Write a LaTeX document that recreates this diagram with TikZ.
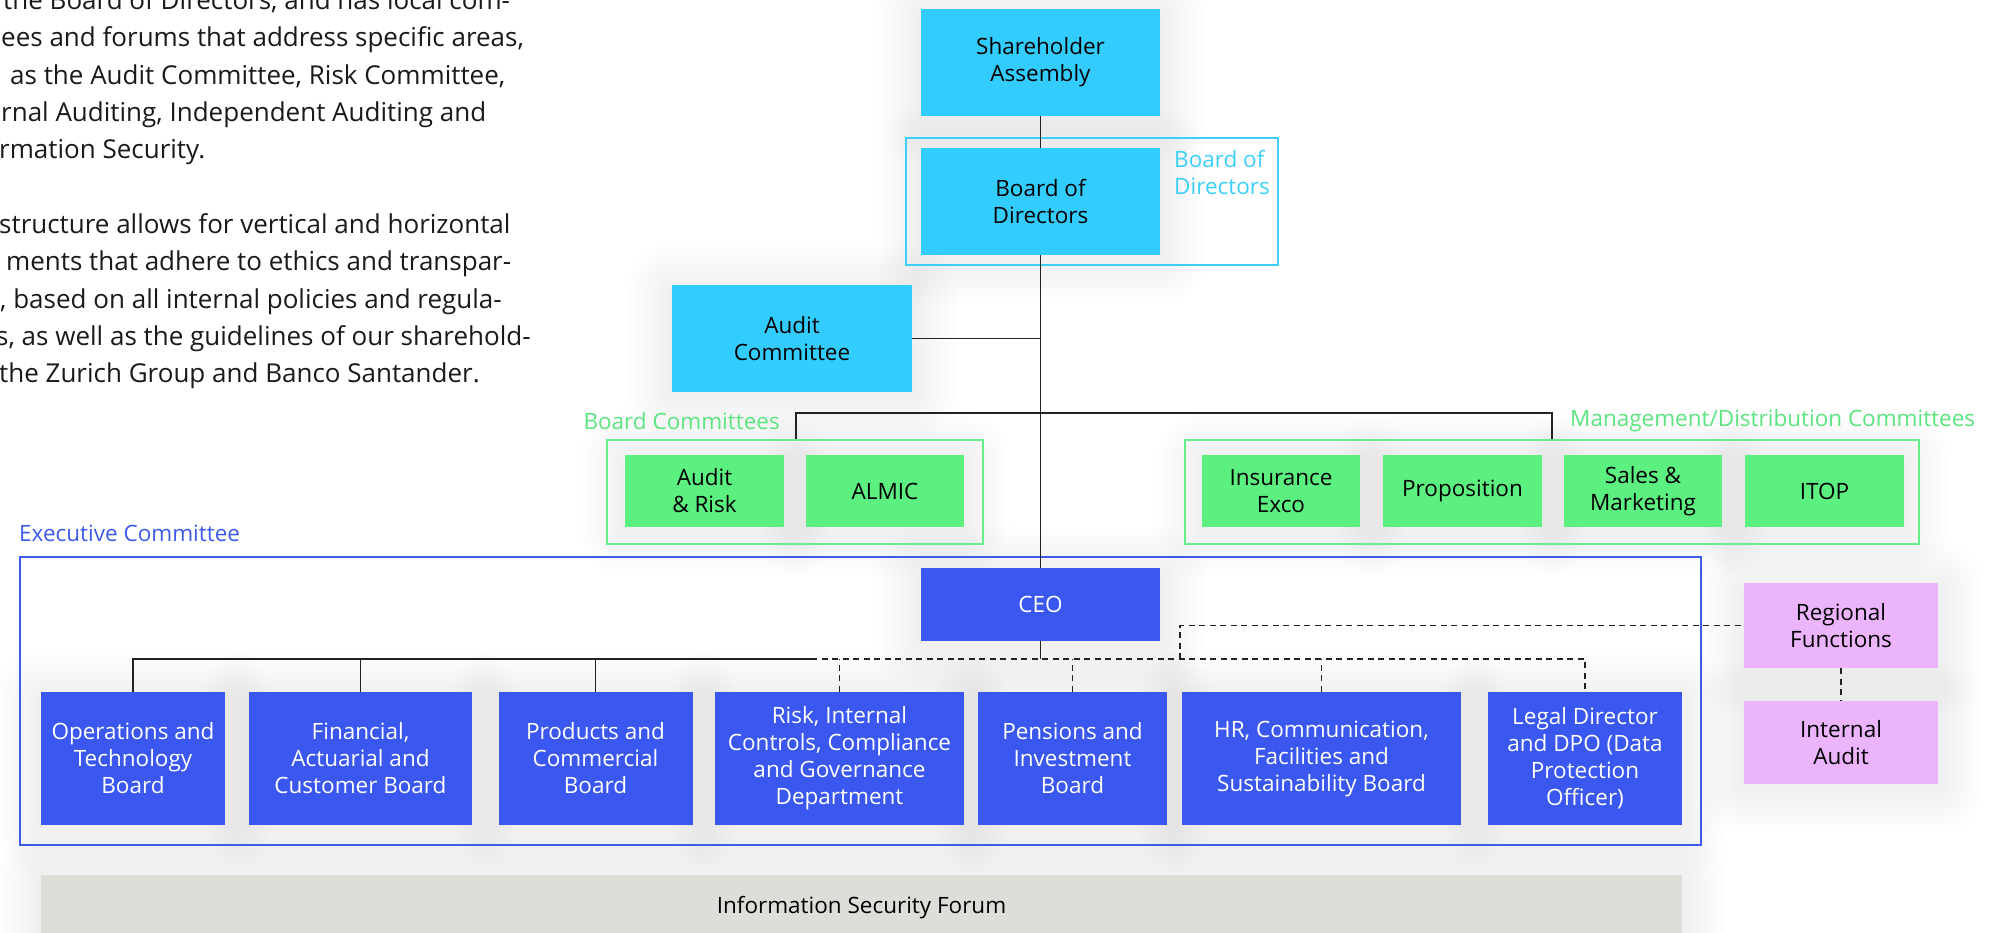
\documentclass[tikz,border=0pt]{standalone}
\usepackage{fontspec}
\setmainfont{Open Sans}
\pgfdeclarelayer{bg}
\pgfsetlayers{bg,main}
\definecolor{cyanbox}{HTML}{33CCFF}
\definecolor{cyanline}{HTML}{3CCFFA}
\definecolor{greenbox}{HTML}{5BF080}
\definecolor{greenline}{HTML}{66EE88}
\definecolor{greentext}{HTML}{5DE480}
\definecolor{bluebox}{HTML}{3A57F0}
\definecolor{blueline}{HTML}{3F5BEA}
\definecolor{pinkbox}{HTML}{ECB4FC}
\definecolor{isfgray}{HTML}{DEDED9}
\definecolor{linegray}{HTML}{222222}
\definecolor{paragray}{HTML}{1A1A1A}
\newcommand\bxfont{\fontsize{22.5}{27}\selectfont}
\newcommand\parafont{\fontsize{26}{37.3}\selectfont}
\newcommand\softshadow[1]{%
  \foreach \r in {3,6,...,45} {%
    \fill[black, opacity=0.0055, rounded corners=\r pt]
      ([xshift={-\r*1pt}, yshift={-(\r+4)*1pt}]#1.south west) rectangle
      ([xshift={\r*1pt}, yshift={(\r-4)*1pt}]#1.north east);
  }}
\begin{document}
\begin{tikzpicture}[x=1pt,y=-1pt,
  box/.style={rectangle, inner sep=0pt, align=center, font=\bxfont},
  cbox/.style={box, fill=cyanbox, text=black},
  gbox/.style={box, fill=greenbox, text=black, minimum width=158pt, minimum height=72pt},
  bbox/.style={box, fill=bluebox, text=white},
  pbox/.style={box, fill=pinkbox, text=black, minimum width=194pt},
  frame/.style={rectangle, inner sep=0pt, line width=2.2pt, fill=none},
  lbl/.style={inner sep=0pt, font=\bxfont},
  para/.style={inner sep=0pt, font=\parafont, text=paragray, anchor=base west},
  conn/.style={draw=linegray, line width=1.6pt},
  dconn/.style={conn, dash pattern=on 6pt off 4.5pt}]
\useasboundingbox (0,0) rectangle (1989,933);
\clip (0,0) rectangle (1989,933);

% left paragraph fragments
\node[para] (p1) at (3,9.7) {the Board of Directors, and has local com-};
\node[para] (p2) at (1,47) {ees and forums that address specific areas,};
\node[para] (p3) at (10,84.3) {as the Audit Committee, Risk Committee,};
\node[para] (p4) at (1,121.6) {rnal Auditing, Independent Auditing and};
\node[para] (p5) at (-1,158.9) {rmation Security.};
\node[para] (p6) at (-1,233.5) {structure allows for vertical and horizontal};
\node[para] (p7) at (6,270.8) {ments that adhere to ethics and transpar-};
\node[para] (p8) at (0,308.1) {, based on all internal policies and regula-};
\node[para] (p9) at (-4,345.4) {s, as well as the guidelines of our sharehold-};
\node[para] (p10) at (-1,382.7) {the Zurich Group and Banco Santander.};

% frames
\node[frame, draw=cyanline, minimum width=372pt, minimum height=127pt] (bodf) at (1092,201.5) {};
\node[frame, draw=greenline, minimum width=376pt, minimum height=104pt] (bcf) at (795,492) {};
\node[frame, draw=greenline, minimum width=734pt, minimum height=104pt] (mf) at (1552,492) {};
\node[frame, draw=blueline, minimum width=1681pt, minimum height=288pt] (exf) at (860.5,701) {};

% frame labels
\node[lbl, text=cyanline, align=left, anchor=west] (bodl) at (1174,172.5) {Board of\\Directors};
\node[lbl, text=greentext, anchor=east] (bcl) at (780,421) {Board Committees};
\node[lbl, text=greentext, anchor=west] (mfl) at (1570,421) {Management/Distribution Committees};
\node[lbl, text=blueline, anchor=west] (exl) at (19,533) {Executive Committee};

% connector coordinates
\coordinate (cl) at (796,413);
\coordinate (cr) at (1552,413);
\coordinate (hl) at (811,659);
\coordinate (rj) at (1180,659);

% top boxes
\node[cbox, minimum width=239pt, minimum height=107pt] (sh) at (1040.5,62.5) {Shareholder\\Assembly};
\node[cbox, minimum width=239pt, minimum height=107pt] (bod) at (1040.5,201.5) {Board of\\Directors};
\node[cbox, minimum width=240pt, minimum height=107pt] (ac) at (792,338.5) {Audit\\Committee};

% committees
\node[gbox, minimum width=159pt] (ar) at (704.5,491) {Audit\\\& Risk};
\node[gbox] (almic) at (885,491) {ALMIC};
\node[gbox] (ie) at (1281,491) {Insurance\\Exco};
\node[gbox, minimum width=159pt] (prop) at (1462.5,491) {Proposition};
\node[gbox] (sm) at (1643,491) {Sales \&\\Marketing};
\node[gbox, minimum width=159pt] (itop) at (1824.5,491) {ITOP};

% executive committee
\node[bbox, minimum width=239pt, minimum height=73pt] (ceo) at (1040.5,604.5) {CEO};
\node[bbox, minimum width=184pt, minimum height=133pt] (ops) at (133,758.5) {Operations and\\Technology\\Board};
\node[bbox, minimum width=223pt, minimum height=133pt] (fin) at (360.5,758.5) {Financial,\\Actuarial and\\Customer Board};
\node[bbox, minimum width=194pt, minimum height=133pt] (prod) at (595.5,758.5) {Products and\\Commercial\\Board};
\node[bbox, minimum width=249pt, minimum height=133pt] (risk) at (839.5,758.5) {Risk, Internal\\Controls, Compliance\\and Governance\\Department};
\node[bbox, minimum width=189pt, minimum height=133pt] (pens) at (1072.5,758.5) {Pensions and\\Investment\\Board};
\node[bbox, minimum width=279pt, minimum height=133pt] (hr) at (1321.5,758.5) {HR, Communication,\\Facilities and\\Sustainability Board};
\node[bbox, minimum width=194pt, minimum height=133pt] (legal) at (1585,758.5) {Legal Director\\and DPO (Data\\Protection\\Officer)};

% regional
\node[pbox, minimum height=85pt] (rf) at (1841,625.5) {Regional\\Functions};
\node[pbox, minimum height=83pt] (ia) at (1841,742.5) {Internal\\Audit};

% information security forum
\node[box, fill=isfgray, minimum width=1641pt, minimum height=66pt] (isf) at (861.5,908) {Information Security Forum};

% soft shadows behind the boxes
\begin{pgfonlayer}{bg}
  \fill[white] (0,0) rectangle (1989,933);
  \foreach \n in {sh,bod,ac,ar,almic,ie,prop,sm,itop,ceo,ops,fin,prod,risk,pens,hr,legal,rf,ia,isf} {\softshadow{\n}}
\end{pgfonlayer}

% connectors
\draw[conn] (sh.south) -- (bod.north);
\draw[conn] (bod.south) -- (ceo.north);
\draw[conn] (ac.east) -- (ac.east -| bod.south);
\draw[conn] (cl |- bcf.north) -- (cl) -- (cr) -- (cr |- mf.north);
\draw[conn] (ceo.south) -- (ceo.south |- hl);
\draw[conn] (ops.north) |- (hl);
\draw[conn] (fin.north) -- (fin.north |- hl);
\draw[conn] (prod.north) -- (prod.north |- hl);
\draw[dconn] (hl) -| (legal.north);
\draw[dconn] (risk.north) -- (risk.north |- hl);
\draw[dconn] (pens.north) -- (pens.north |- hl);
\draw[dconn] (hr.north) -- (hr.north |- hl);
\draw[dconn] (rj) |- (rf.west);
\draw[dconn] (rf.south) -- (ia.north);
\end{tikzpicture}
\end{document}
